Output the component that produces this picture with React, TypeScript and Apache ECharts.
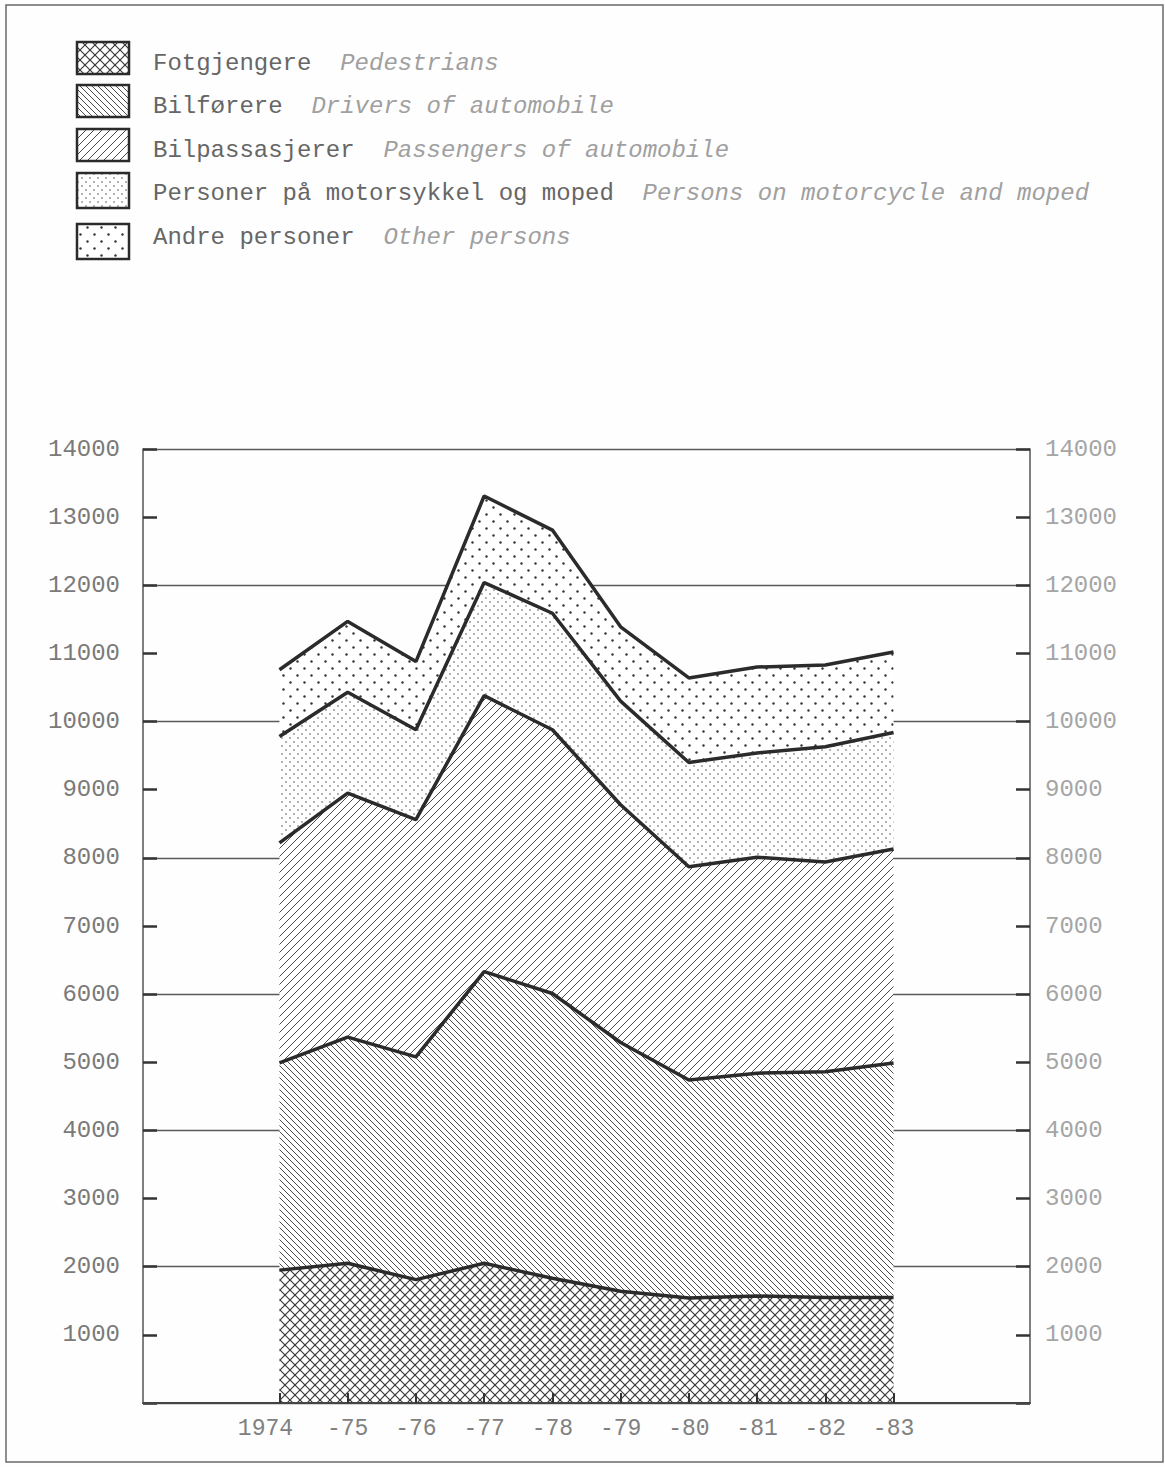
import React, { useEffect, useRef } from 'react';
import * as echarts from 'echarts';

// ---- Data ----
const yearLabels = ['1974', '-75', '-76', '-77', '-78', '-79', '-80', '-81', '-82', '-83'];
const pedestrians = [1950, 2050, 1810, 2050, 1830, 1640, 1540, 1570, 1550, 1550];
const drivers = [3040, 3320, 3270, 4280, 4180, 3650, 3200, 3270, 3310, 3440];
const passengers = [3230, 3580, 3480, 4050, 3870, 3490, 3130, 3170, 3080, 3140];
const motorcycle = [1560, 1480, 1320, 1660, 1710, 1520, 1530, 1530, 1690, 1710];
const others = [980, 1040, 1000, 1270, 1220, 1090, 1240, 1260, 1200, 1180];

const norwegianNames = ['Fotgjengere', 'Bilførere', 'Bilpassasjerer', 'Personer på motorsykkel og moped', 'Andre personer'];
const englishNames = ['Pedestrians', 'Drivers of automobile', 'Passengers of automobile', 'Persons on motorcycle and moped', 'Other persons'];
const patternKinds = ['cross', 'back', 'fwd', 'fine', 'sparse'];

const PAD_BEFORE = 2;
const PAD_AFTER = 2;
const categories = [
  ...Array.from({ length: PAD_BEFORE }, (_, i) => `pad-a${i}`),
  ...yearLabels,
  ...Array.from({ length: PAD_AFTER }, (_, i) => `pad-b${i}`),
];
const padSeries = (vals: number[]) => [
  ...Array(PAD_BEFORE).fill(null),
  ...vals,
  ...Array(PAD_AFTER).fill(null),
];

const MONO = '"Liberation Mono", "DejaVu Sans Mono", monospace';

function makePattern(kind: string) {
  const sizes: Record<string, number> = { cross: 10, back: 6, fwd: 8, fine: 8, sparse: 14 };
  const s = sizes[kind];
  const c = document.createElement('canvas');
  c.width = s;
  c.height = s;
  const g = c.getContext('2d')!;
  g.fillStyle = '#ffffff';
  g.fillRect(0, 0, s, s);
  g.strokeStyle = '#3a3a3a';
  g.fillStyle = '#3a3a3a';
  g.lineWidth = 1.2;
  const back = () => {
    for (const o of [-s, 0, s]) {
      g.beginPath();
      g.moveTo(o, 0);
      g.lineTo(o + s, s);
      g.stroke();
    }
  };
  const fwd = () => {
    for (const o of [-s, 0, s]) {
      g.beginPath();
      g.moveTo(o, s);
      g.lineTo(o + s, 0);
      g.stroke();
    }
  };
  const dot = (x: number, y: number, r: number) => {
    g.beginPath();
    g.arc(x, y, r, 0, Math.PI * 2);
    g.fill();
  };
  if (kind === 'cross') {
    back();
    fwd();
  } else if (kind === 'back') {
    g.strokeStyle = '#4a4a4a';
    g.lineWidth = 1;
    back();
  } else if (kind === 'fwd') {
    g.strokeStyle = '#4a4a4a';
    g.lineWidth = 1;
    fwd();
  } else if (kind === 'fine') {
    g.fillStyle = '#555';
    dot(2, 2, 0.8);
    dot(6, 6, 0.8);
  } else if (kind === 'sparse') {
    g.fillStyle = '#333';
    dot(3.5, 3.5, 1.2);
    dot(10.5, 10.5, 1.2);
  }
  return { image: c.toDataURL(), imageWidth: s, imageHeight: s, repeat: 'repeat' };
}

export default function App() {
  const ref = useRef<HTMLDivElement>(null);

  useEffect(() => {
    if (!ref.current) return;
    const chart = echarts.init(ref.current, null, { renderer: 'svg' });
    const patterns = patternKinds.map((k) => makePattern(k));
    const seriesValues = [pedestrians, drivers, passengers, motorcycle, others];

    const series = seriesValues.map((vals, i) => ({
      name: englishNames[i],
      type: 'line',
      stack: 'total',
      data: padSeries(vals),
      symbol: 'none',
      lineStyle: { color: '#2b2b2b', width: 3.5 },
      areaStyle: { color: patterns[i] as any, opacity: 1 },
      z: 10 - i,
    }));

    const charW = 14.4;
    const legendX = 153;
    const rowCenters = [63, 106, 150, 193, 237];
    const boxTops = [42, 85, 129, 173, 224];
    const boxHeights = [32, 32, 32, 35, 35];

    const graphics: any[] = [
      {
        type: 'rect',
        shape: { x: 6, y: 5, width: 1157, height: 1457 },
        style: { fill: 'none', stroke: '#6a6a6a', lineWidth: 1.5 },
        silent: true,
      },
    ];
    norwegianNames.forEach((no, i) => {
      graphics.push({
        type: 'rect',
        shape: { x: 77, y: boxTops[i], width: 52, height: boxHeights[i] },
        style: { fill: patterns[i], stroke: '#2b2b2b', lineWidth: 2.5 },
      });
      graphics.push({
        type: 'text',
        x: legendX,
        y: rowCenters[i],
        style: {
          text: no,
          fontSize: 24,
          fontFamily: MONO,
          fill: '#666666',
          verticalAlign: 'middle',
        },
      });
      graphics.push({
        type: 'text',
        x: legendX + (no.length + 2) * charW,
        y: rowCenters[i],
        style: {
          text: englishNames[i],
          fontSize: 24,
          fontFamily: MONO,
          fontStyle: 'italic',
          fill: '#a0a0a0',
          verticalAlign: 'middle',
        },
      });
    });

    const inRange = (idx: number) => idx >= PAD_BEFORE && idx < PAD_BEFORE + yearLabels.length;

    chart.setOption({
      animation: false,
      backgroundColor: '#fefefe',
      grid: { left: 143, right: 135, top: 449, bottom: 64, containLabel: false },
      xAxis: {
        type: 'category',
        boundaryGap: false,
        data: categories,
        axisLine: { lineStyle: { color: '#444', width: 2 } },
        axisTick: {
          inside: true,
          length: 10,
          interval: (idx: number) => inRange(idx),
          lineStyle: { color: '#333', width: 2 },
        },
        axisLabel: {
          interval: (idx: number) => inRange(idx),
          formatter: (v: string, idx: number) =>
            v.startsWith('pad') ? '' : idx === PAD_BEFORE ? `{first|${v}}` : v,
          color: '#808080',
          fontSize: 23,
          fontFamily: MONO,
          margin: 14,
          rich: {
            first: { padding: [0, 28, 0, 0], color: '#808080', fontSize: 23, fontFamily: MONO },
          },
        },
        splitLine: { show: false },
        z: 10,
      },
      yAxis: [
        {
          type: 'value',
          position: 'left',
          min: 0,
          max: 14000,
          interval: 1000,
          axisLine: { show: true, lineStyle: { color: '#555', width: 1.5 } },
          axisTick: { show: true, inside: true, length: 14, lineStyle: { color: '#333', width: 2.5 } },
          axisLabel: {
            formatter: (v: number) => (v === 0 ? '' : String(v)),
            color: '#7a7a7a',
            fontSize: 24,
            fontFamily: MONO,
            margin: 23,
          },
          splitLine: { show: false },
        },
        {
          type: 'value',
          position: 'right',
          min: 0,
          max: 14000,
          interval: 1000,
          axisLine: { show: true, lineStyle: { color: '#555', width: 1.5 } },
          axisTick: { show: true, inside: true, length: 14, lineStyle: { color: '#333', width: 2.5 } },
          axisLabel: {
            formatter: (v: number) => (v === 0 ? '' : String(v)),
            color: '#a5a5a5',
            fontSize: 24,
            fontFamily: MONO,
            margin: 15,
          },
          splitLine: { show: false },
        },
        {
          type: 'value',
          position: 'left',
          min: 0,
          max: 14000,
          interval: 2000,
          axisLine: { show: false },
          axisTick: { show: false },
          axisLabel: { show: false },
          splitLine: { show: true, lineStyle: { color: '#5a5a5a', width: 1.3 } },
        },
      ],
      series,
      graphic: graphics,
    });

    return () => chart.dispose();
  }, []);

  return (
    <div
      ref={ref}
      style={{ position: 'absolute', left: 0, top: 0, width: 1165, height: 1467 }}
    />
  );
}
